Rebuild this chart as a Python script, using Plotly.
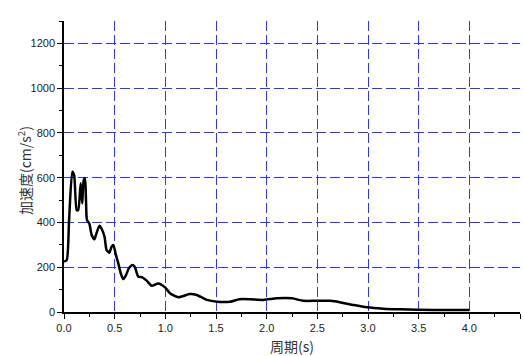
import plotly.graph_objects as go

# Response spectrum: period (s) vs. spectral acceleration (cm/s^2)
period = [0.0, 0.027, 0.05, 0.082, 0.10, 0.125, 0.14, 0.165, 0.18, 0.195, 0.207,
          0.217, 0.227, 0.25, 0.273, 0.30, 0.32, 0.35, 0.37, 0.40, 0.42, 0.447,
          0.47, 0.487, 0.513, 0.536, 0.56, 0.585, 0.612, 0.64, 0.678, 0.70,
          0.733, 0.773, 0.816, 0.866, 0.93, 0.997, 1.046, 1.13, 1.24, 1.31,
          1.41, 1.51, 1.64, 1.73, 1.835, 1.97, 2.10, 2.25, 2.36, 2.49, 2.63,
          2.72, 2.86, 2.99, 3.15, 3.32, 3.65, 4.0]
accel = [225, 232, 410, 627, 612, 455, 455, 575, 485, 590, 597,
         500, 410, 395, 344, 325, 351, 385, 373, 336, 277, 265,
         292, 299, 254, 217, 173, 147, 165, 195, 210, 200,
         158, 155, 140, 117, 127, 110, 84, 66, 80, 76,
         54, 46, 46, 57, 57, 54, 61, 61, 50, 50, 50,
         44, 31, 21, 15, 12, 9, 9]

x_ticks = [0.0, 0.5, 1.0, 1.5, 2.0, 2.5, 3.0, 3.5, 4.0, 4.5]
y_ticks = [0, 200, 400, 600, 800, 1000, 1200]

grid_color = "rgb(50,50,255)"
tick_font = dict(family="Liberation Sans, Arial, sans-serif", size=11, color="#222")
title_font = dict(family="Noto Sans CJK SC, sans-serif", size=14, color="#333")

fig = go.Figure(go.Scatter(
    x=period, y=accel, mode="lines",
    line=dict(color="black", width=2.5, shape="spline", smoothing=0.6),
    showlegend=False,
))

fig.update_layout(
    width=524, height=356,
    margin=dict(l=64, r=4, t=21, b=44),
    paper_bgcolor="white", plot_bgcolor="white",
)

fig.update_xaxes(
    range=[0, 4.5], tickvals=x_ticks,
    ticktext=[f"{v:.1f}" for v in x_ticks],
    showline=True, linecolor="black", linewidth=1.5,
    ticks="outside", ticklen=5, tickwidth=1.2, tickcolor="black",
    minor=dict(ticks="outside", ticklen=3, dtick=0.25, tickcolor="black", showgrid=False),
    showgrid=True, gridcolor=grid_color, gridwidth=1, griddash="10px,4px",
    zeroline=False, tickfont=tick_font,
    title=dict(text="周期(s)", font=title_font, standoff=9),
)

fig.update_yaxes(
    range=[0, 1300], tickvals=y_ticks,
    showline=True, linecolor="black", linewidth=1.5,
    ticks="outside", ticklen=5, tickwidth=1.2, tickcolor="black",
    minor=dict(ticks="outside", ticklen=3, dtick=100, tickcolor="black", showgrid=False),
    showgrid=True, gridcolor=grid_color, gridwidth=1, griddash="10px,4px",
    zeroline=False, tickfont=tick_font,
)

# Vertical axis title placed as an annotation beside the tick labels
fig.add_annotation(
    text="加速度(cm/s<sup>2</sup>)", textangle=-90,
    xref="paper", yref="paper", x=-0.086, y=0.487,
    xanchor="center", yanchor="middle", showarrow=False,
    font=title_font,
)

fig.write_html("out.html")
